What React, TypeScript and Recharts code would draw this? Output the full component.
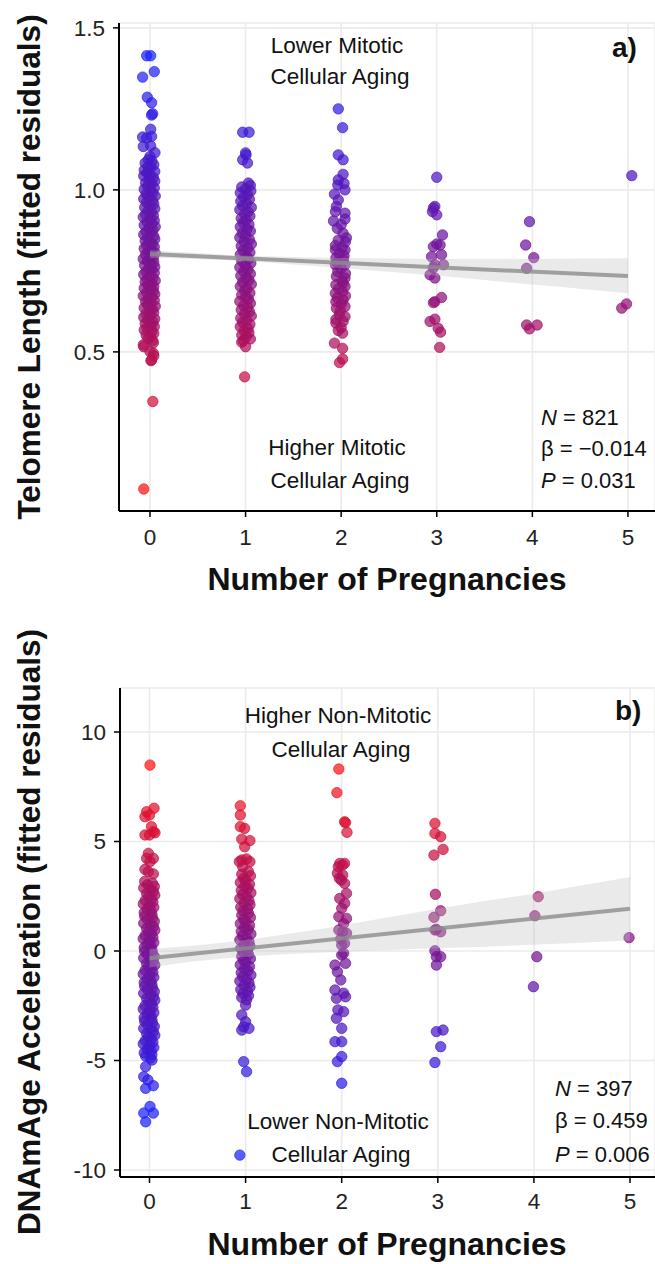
import React from 'react';
import { ComposedChart, Scatter, Line, Area, XAxis, YAxis, CartesianGrid } from 'recharts';

// ---------- DATA: panel a (telomere length residuals) ----------
// [jitter offset from the pregnancy count, fitted residual]
const teloPreg0: number[][] = [
  [-0.035,1.414],[0.007,1.414],[-0.077,1.348],[0.045,1.365],[-0.028,1.286],[0.017,1.269],[0.028,1.235],[0.017,1.231],
  [0.007,1.187],[-0.077,1.163],[-0.035,1.16],[0.017,1.165],[-0.07,1.134],[0.007,1.136],[0.052,1.115],[0.0,1.103],[-0.017,1.093],
  [0.02,1.089],[-0.05,1.083],[0.04,1.078],[-0.02,1.072],[0.01,1.069],[-0.06,1.061],[0.05,1.057],[-0.03,1.052],[0.0,1.046],
  [-0.065,1.043],[0.035,1.038],[-0.01,1.031],[0.05,1.027],[-0.045,1.022],[0.015,1.018],[-0.025,1.011],[0.045,1.006],[-0.06,1.002],
  [0.005,0.996],[0.03,0.991],[-0.04,0.987],[0.055,0.981],[-0.015,0.977],[-0.065,0.972],[0.025,0.966],[-0.035,0.961],[0.04,0.957],
  [0.0,0.951],[-0.055,0.946],[0.05,0.942],[-0.02,0.936],[0.015,0.932],[-0.045,0.925],[0.035,0.921],[-0.07,0.916],[0.005,0.911],
  [0.045,0.905],[-0.03,0.901],[0.02,0.896],[-0.06,0.891],[0.055,0.886],[-0.01,0.882],[0.03,0.876],[-0.04,0.871],[0.01,0.867],
  [-0.065,0.862],[0.04,0.857],[-0.02,0.852],[0.05,0.848],[-0.05,0.843],[0.0,0.838],[0.025,0.833],[-0.035,0.829],[0.045,0.824],
  [-0.06,0.819],[0.015,0.814],[-0.015,0.81],[0.055,0.805],[-0.045,0.8],[0.005,0.796],[0.035,0.791],[-0.07,0.787],[-0.025,0.781],
  [0.04,0.776],[0.01,0.772],[-0.055,0.767],[0.05,0.762],[-0.01,0.758],[0.02,0.753],[-0.04,0.748],[0.045,0.744],[-0.065,0.739],
  [0.0,0.734],[0.03,0.729],[-0.03,0.725],[0.055,0.72],[-0.05,0.716],[0.015,0.711],[-0.02,0.706],[0.04,0.702],[-0.06,0.697],
  [0.005,0.692],[0.035,0.688],[-0.035,0.683],[0.05,0.678],[-0.07,0.673],[0.02,0.669],[-0.015,0.664],[0.045,0.659],[-0.045,0.655],
  [0.01,0.65],[-0.025,0.645],[0.055,0.641],[-0.06,0.636],[0.025,0.631],[-0.005,0.626],[0.04,0.622],[-0.04,0.617],[0.0,0.612],
  [-0.065,0.607],[0.05,0.602],[-0.02,0.598],[0.03,0.593],[-0.05,0.588],[0.015,0.583],[0.045,0.578],[-0.03,0.574],[-0.06,0.568],
  [0.02,0.563],[0.04,0.557],[-0.04,0.552],[0.005,0.546],[-0.02,0.541],[0.03,0.535],
  [-0.07,0.522],[0.035,0.528],[0.035,0.496],[0.017,0.475],[-0.065,0.516],[0.0,0.501],[0.04,0.488],[0.01,0.473],[0.03,0.347],[-0.065,0.077],
];
const teloPreg1: number[][] = [
  [-0.03,1.178],[0.037,1.178],[0.0,1.114],[0.005,1.108],[-0.03,1.093],[0.02,1.083],
  [0.03,1.021],[0.05,1.014],[-0.04,1.009],[0.0,1.003],[0.055,0.997],[-0.055,0.991],[0.02,0.985],[-0.02,0.978],[0.04,0.971],
  [-0.05,0.965],[0.01,0.958],[-0.03,0.951],[0.06,0.946],[-0.06,0.939],[0.025,0.932],[-0.01,0.926],[0.045,0.919],[-0.045,0.912],
  [0.005,0.906],[-0.025,0.899],[0.035,0.893],[-0.055,0.886],[0.015,0.879],[0.05,0.873],[-0.035,0.866],[0.0,0.859],[-0.06,0.853],
  [0.04,0.846],[-0.015,0.84],[0.06,0.833],[-0.045,0.827],[0.02,0.82],[-0.025,0.813],[0.045,0.807],[-0.055,0.8],[0.01,0.794],
  [0.03,0.787],[-0.04,0.781],[0.055,0.774],[-0.005,0.767],[-0.06,0.761],[0.025,0.754],[-0.02,0.748],[0.05,0.741],[-0.05,0.735],
  [0.005,0.728],[0.035,0.722],[-0.03,0.715],[0.06,0.709],[-0.055,0.702],[0.015,0.695],[-0.01,0.689],[0.045,0.682],[-0.04,0.676],
  [0.0,0.669],[0.03,0.663],[-0.06,0.656],[0.05,0.65],[-0.02,0.643],[0.02,0.637],[-0.045,0.63],[0.04,0.624],[-0.01,0.617],
  [0.06,0.611],[-0.05,0.604],[0.01,0.598],[-0.03,0.591],[0.045,0.585],[-0.055,0.578],[0.025,0.572],[-0.015,0.565],[0.035,0.559],
  [-0.04,0.552],[0.005,0.546],[0.05,0.54],[-0.025,0.535],
  [-0.04,0.53],[0.0,0.516],[-0.01,0.423],
];
const teloPreg2: number[][] = [
  [-0.03,1.25],[0.015,1.192],[-0.03,1.108],[0.02,1.093],[0.02,1.048],[-0.03,1.031],[0.03,1.02],[0.04,1.0],[-0.035,1.015],
  [-0.07,0.987],[-0.03,0.969],[-0.05,0.949],[0.04,0.928],[-0.06,0.933],[0.04,0.91],[-0.08,0.904],
  [0.0,0.893],[-0.04,0.881],[0.02,0.866],[0.055,0.852],[-0.03,0.845],[0.045,0.84],[-0.06,0.828],[0.01,0.822],[-0.06,0.815],
  [0.04,0.815],[-0.02,0.803],[0.03,0.797],[-0.055,0.79],[0.025,0.784],[-0.045,0.776],[0.04,0.769],[-0.06,0.769],[0.0,0.758],
  [-0.035,0.748],[0.045,0.742],[-0.05,0.733],[0.04,0.728],[0.01,0.72],[-0.055,0.707],[0.02,0.712],[0.04,0.702],[-0.025,0.695],
  [-0.06,0.681],[0.015,0.686],[0.045,0.673],[-0.04,0.667],[-0.055,0.655],[0.02,0.66],[0.0,0.648],[-0.05,0.635],[0.04,0.64],
  [-0.01,0.627],[-0.02,0.614],[0.04,0.609],[-0.055,0.6],[-0.055,0.589],[0.02,0.594],[0.0,0.575],[-0.03,0.566],[0.015,0.558],
  [-0.07,0.527],[0.015,0.511],[0.015,0.478],[-0.017,0.467],
];
const teloPreg3: number[][] = [
  [0.0,1.039],[-0.035,0.944],[-0.02,0.949],[-0.045,0.933],[0.0,0.923],[0.06,0.861],[0.0,0.833],[0.035,0.83],[-0.035,0.825],
  [-0.055,0.794],[0.05,0.8],[-0.02,0.769],[0.07,0.769],[-0.035,0.76],[-0.07,0.738],[-0.02,0.728],[-0.02,0.655],[0.05,0.668],
  [-0.035,0.652],[-0.07,0.594],[-0.02,0.601],[0.015,0.573],[0.04,0.561],[0.03,0.514],
];
const teloPreg4: number[][] = [
  [-0.03,0.902],[-0.07,0.83],[0.015,0.791],[-0.06,0.758],[-0.06,0.583],[0.05,0.583],[-0.03,0.571],
];
const teloPreg5: number[][] = [[0.04,1.044],[-0.015,0.648],[-0.065,0.635]];

// regression fit and 95% band, panel a
const teloFitX = [0, 5];
const teloFitY = [0.802, 0.734];
const teloBandX = [0, 0.5, 1, 1.5, 2, 2.5, 3, 3.5, 4, 4.5, 5];
const teloBandLow = [0.790, 0.787, 0.780, 0.770, 0.759, 0.747, 0.735, 0.722, 0.708, 0.695, 0.681];
const teloBandHigh = [0.814, 0.805, 0.797, 0.793, 0.790, 0.788, 0.787, 0.787, 0.787, 0.788, 0.789];

// ---------- DATA: panel b (DNAmAge acceleration residuals) ----------
const dnamPreg0: number[][] = [
  [0.005,8.49],[-0.03,6.36],[0.0,6.21],[0.047,6.52],[-0.047,6.13],[0.02,5.68],[0.04,5.45],[-0.047,5.3],[0.0,5.3],[0.057,5.4],
  [-0.012,4.46],[-0.03,4.23],[0.04,4.23],[0.005,4.08],[-0.047,3.73],[-0.012,3.62],[0.04,3.52],
  [-0.05,3.18],[0.03,3.1],[-0.02,3.03],[0.05,2.95],[-0.06,2.88],[0.01,2.79],[0.04,2.72],[-0.03,2.63],[0.055,2.55],[-0.01,2.48],
  [0.02,2.39],[-0.045,2.31],[0.035,2.24],[-0.065,2.15],[0.0,2.07],[0.045,1.99],[-0.025,1.92],[0.015,1.83],[-0.055,1.75],[0.025,1.68],
  [-0.05,1.59],[0.03,1.51],[-0.02,1.43],[0.05,1.36],[-0.06,1.27],[0.01,1.19],[0.04,1.12],[-0.03,1.03],[0.055,0.95],[-0.01,0.87],
  [0.02,0.8],[-0.045,0.71],[0.035,0.63],[-0.065,0.56],[0.0,0.47],[0.045,0.39],[-0.025,0.31],[0.015,0.24],[-0.055,0.15],[0.025,0.07],
  [-0.05,-0.01],[0.03,-0.08],[-0.02,-0.17],[0.05,-0.25],[-0.06,-0.32],[0.01,-0.41],[0.04,-0.49],[-0.03,-0.57],[0.055,-0.64],[-0.01,-0.73],
  [0.02,-0.81],[-0.045,-0.88],[0.035,-0.97],[-0.065,-1.05],[0.0,-1.13],[0.045,-1.2],[-0.025,-1.29],[0.015,-1.37],[-0.055,-1.44],[0.025,-1.53],
  [-0.05,-1.61],[0.03,-1.69],[-0.02,-1.76],[0.05,-1.85],[-0.06,-1.93],[0.01,-2.0],[0.04,-2.09],[-0.03,-2.17],[0.055,-2.25],[-0.01,-2.32],
  [0.02,-2.41],[-0.045,-2.49],[0.035,-2.56],[-0.065,-2.65],[0.0,-2.73],[0.045,-2.81],[-0.025,-2.88],[0.015,-2.97],[-0.055,-3.05],[0.025,-3.12],
  [-0.05,-3.21],[0.03,-3.29],[-0.02,-3.37],[0.05,-3.44],[-0.06,-3.53],[0.01,-3.61],[0.04,-3.68],[-0.03,-3.77],[0.055,-3.85],[-0.01,-3.93],
  [0.02,-4.0],[-0.045,-4.09],[0.035,-4.17],[-0.065,-4.24],[0.0,-4.33],[0.045,-4.41],[-0.025,-4.49],[0.015,-4.56],[-0.055,-4.65],[0.025,-4.73],
  [-0.04,-4.8],[0.01,-4.89],
  [-0.04,-5.28],[0.026,-4.98],[-0.06,-5.74],[-0.016,-5.89],[0.04,-6.15],[-0.04,-6.27],[0.005,-7.1],[-0.06,-7.4],[0.04,-7.4],[-0.04,-7.8],
];
const dnamPreg1: number[][] = [
  [-0.055,6.63],[-0.055,6.21],[-0.055,5.68],[-0.01,5.6],[-0.04,5.11],[0.045,5.04],[-0.01,4.76],[-0.04,4.16],[0.01,4.2],[0.045,4.08],
  [-0.065,4.08],[-0.03,3.85],
  [0.03,3.62],[-0.04,3.51],[0.05,3.43],[-0.02,3.32],[0.0,3.24],[-0.055,3.13],[0.04,3.05],[-0.01,2.94],[0.025,2.86],[-0.045,2.77],
  [0.055,2.66],[-0.03,2.58],[0.01,2.47],[-0.06,2.39],[0.035,2.3],[-0.015,2.19],[0.045,2.11],[-0.05,2.0],[0.02,1.92],[-0.025,1.83],
  [0.03,1.72],[-0.04,1.64],[0.05,1.53],[-0.02,1.45],[0.0,1.36],[-0.055,1.25],[0.04,1.17],[-0.01,1.06],[0.025,0.98],[-0.045,0.89],
  [0.055,0.78],[-0.03,0.7],[0.01,0.59],[-0.06,0.51],[0.035,0.42],[-0.015,0.31],[0.045,0.23],[-0.05,0.12],[0.02,0.04],[-0.025,-0.05],
  [0.03,-0.16],[-0.04,-0.24],[0.05,-0.35],[-0.02,-0.43],[0.0,-0.52],[-0.055,-0.63],[0.04,-0.71],[-0.01,-0.82],[0.025,-0.9],[-0.045,-0.99],
  [0.055,-1.1],[-0.03,-1.18],[0.01,-1.29],[-0.06,-1.37],[0.035,-1.46],[-0.015,-1.57],[0.045,-1.65],[-0.05,-1.76],[0.02,-1.84],[-0.025,-1.93],
  [0.03,-2.04],[-0.04,-2.12],[0.01,-2.23],
  [0.0,-2.47],[-0.04,-2.92],[0.0,-3.23],[-0.02,-3.46],[0.035,-3.53],[-0.04,-3.61],[-0.02,-5.05],[0.01,-5.51],
];
const dnamPreg2: number[][] = [
  [-0.03,8.31],[-0.05,7.23],[0.03,5.9],[0.04,5.86],[0.055,5.42],
  [-0.02,4.0],[-0.035,3.85],[0.01,3.93],[0.03,4.0],[-0.045,3.55],[0.01,3.47],[-0.005,3.24],[0.03,3.09],[-0.025,3.32],
  [0.05,2.63],[-0.02,2.4],[0.03,2.18],[0.0,1.95],[-0.03,1.57],[0.05,1.49],[0.02,1.25],[-0.03,0.96],[0.05,0.81],[0.01,0.88],
  [0.03,0.35],[-0.01,0.55],[0.02,-0.1],
  [0.0,0.27],[0.0,-0.18],[-0.07,-0.64],[0.04,-0.56],[-0.045,-0.95],[-0.01,-1.32],[-0.07,-1.78],[0.02,-1.93],[0.04,-2.09],
  [-0.055,-2.16],[-0.04,-2.69],[0.02,-2.77],[-0.055,-3.07],[0.0,-3.53],[-0.07,-4.14],[0.0,-4.14],[-0.045,-5.05],[0.0,-4.82],[0.0,-6.04],
];
const dnamPreg3: number[][] = [
  [-0.03,5.83],[-0.03,5.37],[0.03,5.22],[0.055,4.64],[-0.04,4.38],[-0.025,2.59],[0.03,1.84],[-0.04,1.54],[-0.015,0.99],[0.03,0.88],
  [-0.03,0.96],[-0.03,0.01],[-0.015,-0.26],[0.03,-0.26],[-0.015,-0.64],[-0.015,-3.68],[0.055,-3.61],[0.03,-4.37],[-0.03,-5.09],
];
const dnamPreg4: number[][] = [[0.045,2.48],[0.01,1.61],[0.03,-0.26],[-0.005,-1.63]];
const dnamPreg5: number[][] = [[-0.01,0.61]];
const dnamExtra: number[][] = [[0.94,-9.32]];

const dnamFitX = [0, 5];
const dnamFitY = [-0.33, 1.93];
const dnamBandX = [0, 0.5, 1, 1.5, 2, 2.5, 3, 3.5, 4, 4.5, 5];
const dnamBandLow = [-0.75, -0.46, -0.26, -0.12, -0.03, 0.05, 0.13, 0.2, 0.28, 0.38, 0.48];
const dnamBandHigh = [0.09, 0.26, 0.5, 0.82, 1.17, 1.55, 1.93, 2.3, 2.62, 3.0, 3.38];

const pregnancyTicks = [0, 1, 2, 3, 4, 5];
const teloTicks = [0.5, 1.0, 1.5];
const teloTickLabels = ['0.5', '1.0', '1.5'];
const dnamTicks = [-10, -5, 0, 5, 10];

// ---------- styling helpers ----------
const FONT = "'Liberation Sans', Arial, Helvetica, sans-serif";
const STOPS = [[255, 20, 20], [200, 15, 65], [125, 20, 140], [70, 25, 200], [25, 35, 255]];
function gradient(u: number): string {
  const t = Math.max(0, Math.min(1, u));
  const p = t * (STOPS.length - 1);
  const i = Math.min(Math.floor(p), STOPS.length - 2);
  const f = p - i;
  const c = STOPS[i].map((v, k) => Math.round(v + (STOPS[i + 1][k] - v) * f));
  return `rgb(${c[0]},${c[1]},${c[2]})`;
}

function buildPoints(groups: number[][][], extra: number[][], blueness: (y: number) => number) {
  const out: { x: number; y: number; c: string }[] = [];
  groups.forEach((g, k) => g.forEach(([j, y]) => out.push({ x: k + j, y, c: gradient(blueness(y)) })));
  extra.forEach(([x, y]) => out.push({ x, y, c: gradient(blueness(y)) }));
  return out;
}

const teloPoints = buildPoints(
  [teloPreg0, teloPreg1, teloPreg2, teloPreg3, teloPreg4, teloPreg5], [],
  (y) => (y - 0.077) / (1.414 - 0.077)
);
const dnamPoints = buildPoints(
  [dnamPreg0, dnamPreg1, dnamPreg2, dnamPreg3, dnamPreg4, dnamPreg5], dnamExtra,
  (y) => (8.49 - y) / (8.49 + 7.8)
);
const teloFit = teloFitX.map((x, i) => ({ x, y: teloFitY[i] }));
const teloBand = teloBandX.map((x, i) => ({ x, band: [teloBandLow[i], teloBandHigh[i]] }));
const dnamFit = dnamFitX.map((x, i) => ({ x, y: dnamFitY[i] }));
const dnamBand = dnamBandX.map((x, i) => ({ x, band: [dnamBandLow[i], dnamBandHigh[i]] }));

const Dot = (props: any) => {
  const { cx, cy, payload } = props;
  if (cx == null || cy == null) return null;
  return (
    <circle cx={cx} cy={cy} r={5.2} fill={payload.c} fillOpacity={0.72} stroke={payload.c} strokeOpacity={0.7} strokeWidth={1} />
  );
};

const tickStyle = { fontSize: 22.5, fill: '#222', fontFamily: FONT };

type PanelProps = {
  width: number; height: number; top: number;
  margin: { top: number; right: number; bottom: number; left: number };
  xDomain: [number, number]; yDomain: [number, number];
  yTicks: number[]; yTickFormat?: (v: number) => string; yAxisWidth: number; xTickMargin: number;
  points: any[]; fit: any[]; band: any[];
};

function Panel(p: PanelProps) {
  return (
    <div style={{ position: 'absolute', left: 0, top: p.top }}>
      <ComposedChart width={p.width} height={p.height} margin={p.margin}>
        <CartesianGrid stroke="#ebebeb" strokeWidth={1.6} />
        <XAxis
          type="number" dataKey="x" domain={p.xDomain} ticks={pregnancyTicks} allowDataOverflow
          height={40} tickSize={6} tickMargin={p.xTickMargin} tick={tickStyle}
          axisLine={{ stroke: '#000', strokeWidth: 2 }} tickLine={{ stroke: '#000', strokeWidth: 1.5 }}
        />
        <YAxis
          type="number" dataKey="y" domain={p.yDomain} ticks={p.yTicks} allowDataOverflow width={p.yAxisWidth}
          tickFormatter={p.yTickFormat} tickSize={6} tickMargin={8} tick={tickStyle}
          axisLine={{ stroke: '#000', strokeWidth: 2 }} tickLine={{ stroke: '#000', strokeWidth: 1.5 }}
        />
        <Scatter data={p.points} dataKey="y" shape={Dot} isAnimationActive={false} />
        <Area data={p.band} dataKey="band" type="monotone" stroke="none" fill="#bdbdbd" fillOpacity={0.32}
          isAnimationActive={false} dot={false} activeDot={false} zIndex={700} />
        <Line data={p.fit} dataKey="y" type="linear" stroke="#8c8c8c" strokeOpacity={0.8} strokeWidth={4}
          dot={false} activeDot={false} isAnimationActive={false} zIndex={800} />
      </ComposedChart>
    </div>
  );
}

const txt = { fontFamily: FONT, fill: '#111' } as const;
const ANN = 22.5;
const STAT = 22;

export default function App() {
  return (
    <div style={{ position: 'absolute', left: 0, top: 0, width: 655, height: 1264, background: '#fff', overflow: 'hidden' }}>
      <Panel
        width={655} height={600} top={0}
        margin={{ top: 23, right: 0, bottom: 49, left: 0 }}
        xDomain={[-0.324, 5.283]} yDomain={[0.009, 1.515]}
        yTicks={teloTicks} yTickFormat={(v) => teloTickLabels[teloTicks.indexOf(v)] ?? String(v)}
        yAxisWidth={119} xTickMargin={12}
        points={teloPoints} fit={teloFit} band={teloBand}
      />
      <Panel
        width={655} height={664} top={600}
        margin={{ top: 88, right: 0, bottom: 47, left: 0 }}
        xDomain={[-0.307, 5.26]} yDomain={[-10.32, 12.01]}
        yTicks={dnamTicks} yTickFormat={(v) => String(v)}
        yAxisWidth={120} xTickMargin={10}
        points={dnamPoints} fit={dnamFit} band={dnamBand}
      />
      <svg width={655} height={1264} style={{ position: 'absolute', left: 0, top: 0, pointerEvents: 'none' }}>
        {/* axis titles */}
        <text x={387} y={590} textAnchor="middle" fontSize={32} fontWeight="bold" {...txt}>Number of Pregnancies</text>
        <text x={387} y={1255} textAnchor="middle" fontSize={32} fontWeight="bold" {...txt}>Number of Pregnancies</text>
        <text transform="translate(40,267) rotate(-90)" textAnchor="middle" fontSize={31.5} fontWeight="bold" {...txt}>Telomere Length (fitted residuals)</text>
        <text transform="translate(40,932) rotate(-90)" textAnchor="middle" fontSize={31.5} fontWeight="bold" {...txt}>DNAmAge Acceleration (fitted residuals)</text>
        {/* panel a annotations */}
        <text x={612} y={57} fontSize={28} fontWeight="bold" {...txt}>a)</text>
        <text x={337} y={53} textAnchor="middle" fontSize={ANN} {...txt}>Lower Mitotic</text>
        <text x={340} y={84} textAnchor="middle" fontSize={ANN} {...txt}>Cellular Aging</text>
        <text x={337} y={455} textAnchor="middle" fontSize={ANN} {...txt}>Higher Mitotic</text>
        <text x={340} y={488} textAnchor="middle" fontSize={ANN} {...txt}>Cellular Aging</text>
        <text x={541} y={425} fontSize={STAT} {...txt}><tspan fontStyle="italic">N</tspan> = 821</text>
        <text x={541} y={456} fontSize={STAT} {...txt}>β = −0.014</text>
        <text x={541} y={488} fontSize={STAT} {...txt}><tspan fontStyle="italic">P</tspan> = 0.031</text>
        {/* panel b annotations */}
        <text x={615} y={720} fontSize={28} fontWeight="bold" {...txt}>b)</text>
        <text x={338} y={723} textAnchor="middle" fontSize={ANN} {...txt}>Higher Non-Mitotic</text>
        <text x={341} y={757} textAnchor="middle" fontSize={ANN} {...txt}>Cellular Aging</text>
        <text x={338} y={1129} textAnchor="middle" fontSize={ANN} {...txt}>Lower Non-Mitotic</text>
        <text x={341} y={1162} textAnchor="middle" fontSize={ANN} {...txt}>Cellular Aging</text>
        <text x={555} y={1096} fontSize={STAT} {...txt}><tspan fontStyle="italic">N</tspan> = 397</text>
        <text x={555} y={1128} fontSize={STAT} {...txt}>β = 0.459</text>
        <text x={555} y={1162} fontSize={STAT} {...txt}><tspan fontStyle="italic">P</tspan> = 0.006</text>
      </svg>
    </div>
  );
}
